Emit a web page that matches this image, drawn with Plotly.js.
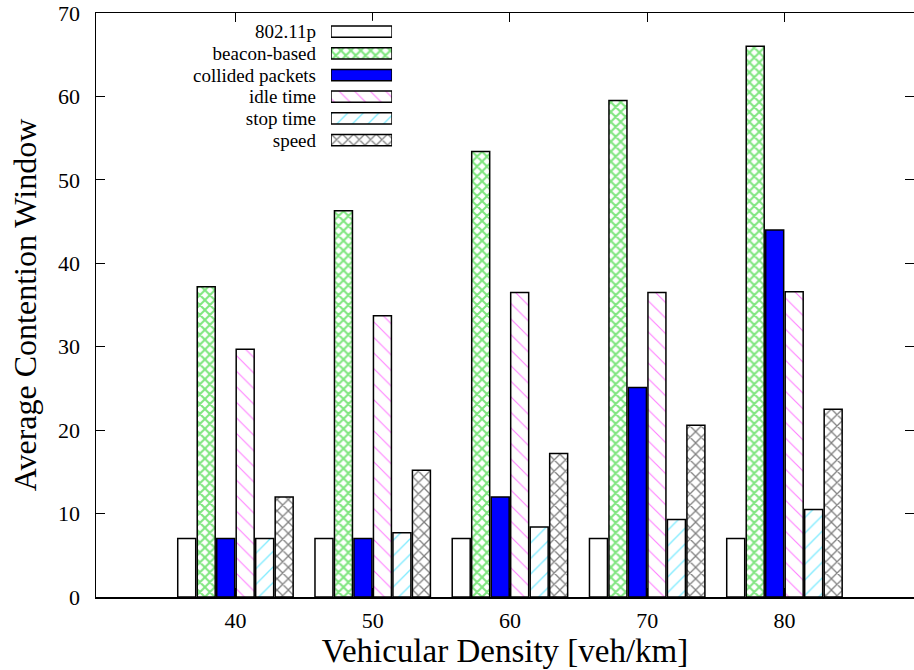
<!DOCTYPE html>
<html>
<head>
<meta charset="utf-8">
<script src="https://cdn.plot.ly/plotly-3.0.1.min.js"></script>
<style>html,body{margin:0;padding:0;background:#fff;}#chart{width:914px;height:670px;}</style>
</head>
<body>
<div id="chart"></div>
<script>
// ---- data ----
const densities = [40, 50, 60, 70, 80];
const seriesNames = ["802.11p", "beacon-based", "collided packets", "idle time", "stop time", "speed"];
const val80211p  = [7.0, 7.0, 7.0, 7.0, 7.0];
const valBeacon  = [37.2, 46.3, 53.4, 59.5, 66.0];
const valCollided = [7.0, 7.0, 12.0, 25.1, 44.0];
const valIdle    = [29.7, 33.7, 36.5, 36.5, 36.6];
const valStop    = [7.0, 7.7, 8.4, 9.3, 10.5];
const valSpeed   = [12.0, 15.2, 17.2, 20.6, 22.5];
const xTicks = [40, 50, 60, 70, 80];
const xTickLabels = ["40", "50", "60", "70", "80"];
const yTicks = [0, 10, 20, 30, 40, 50, 60, 70];

// ---- styles ----
const seriesValues = [val80211p, valBeacon, valCollided, valIdle, valStop, valSpeed];
const styles = [
  {color: "#ffffff", shape: "", fg: "#000000", size: 8, sol: 0.3},
  {color: "#ffffff", shape: "x", fg: "#00cc00", size: 7, sol: 0.5},
  {color: "#0000ff", shape: "", fg: "#0000ff", size: 8, sol: 0.3},
  {color: "#ffffff", shape: "\\", fg: "#ff00ff", size: 11, sol: 0.1},
  {color: "#ffffff", shape: "/", fg: "#00d8ff", size: 11, sol: 0.12},
  {color: "#ffffff", shape: "x", fg: "#000000", size: 8, sol: 0.3}
];
const FONT = "Liberation Serif, Times New Roman, serif";

function markerFor(s) {
  return {
    color: s.color,
    line: {color: "#000000", width: 1.5},
    pattern: {
      shape: s.shape,
      fgcolor: s.fg,
      bgcolor: s.color,
      size: s.size,
      solidity: s.sol,
      fillmode: "overlay"
    }
  };
}

const traces = seriesNames.map((name, i) => ({
  type: "bar",
  name: name,
  x: densities,
  y: seriesValues[i],
  showlegend: false,
  marker: markerFor(styles[i]),
  hoverinfo: "x+y+name"
}));

// legend key drawn as small horizontal bars on their own axes
seriesNames.forEach((name, i) => {
  traces.push({
    type: "bar",
    orientation: "h",
    xaxis: "x2",
    yaxis: "y2",
    name: name,
    y: [name],
    x: [1],
    width: 0.52,
    offsetgroup: "key",
    showlegend: false,
    hoverinfo: "skip",
    marker: markerFor(styles[i])
  });
});

const layout = {
  width: 914,
  height: 670,
  margin: {l: 96, r: 0, t: 13, b: 73},
  paper_bgcolor: "#ffffff",
  plot_bgcolor: "#ffffff",
  barmode: "group",
  bargap: 0.148,
  bargroupgap: 0.077,
  showlegend: false,
  font: {family: FONT, color: "#000000", size: 22},
  xaxis: {
    range: [29.84, 89.44],
    tickvals: xTicks,
    ticktext: xTickLabels,
    ticks: "inside",
    ticklen: 9,
    tickwidth: 1,
    tickcolor: "#000000",
    showline: true,
    linecolor: "#000000",
    linewidth: 1.5,
    mirror: "ticks",
    showgrid: false,
    zeroline: false,
    tickfont: {family: FONT, size: 22, color: "#000000"},
    ticklabelstandoff: 3,
    title: {text: "Vehicular Density [veh/km]", font: {family: FONT, size: 33, color: "#000000"}, standoff: 2}
  },
  yaxis: {
    range: [0, 70],
    tickvals: yTicks,
    ticks: "inside",
    ticklen: 9,
    tickwidth: 1,
    tickcolor: "#000000",
    showline: true,
    linecolor: "#000000",
    linewidth: 1.5,
    mirror: "ticks",
    showgrid: false,
    zeroline: false,
    tickfont: {family: FONT, size: 22, color: "#000000"},
    ticklabelstandoff: 10,
    title: {text: "Average Contention Window", font: {family: FONT, size: 32, color: "#000000"}, standoff: 12}
  },
  xaxis2: {
    domain: [0.2873, 0.3619],
    anchor: "y2",
    range: [0, 1],
    visible: false,
    fixedrange: true
  },
  yaxis2: {
    domain: [0.7639, 0.9866],
    anchor: "x2",
    autorange: "reversed",
    type: "category",
    tickmode: "array",
    tickvals: seriesNames,
    ticktext: seriesNames,
    showline: false,
    showgrid: false,
    zeroline: false,
    ticks: "",
    ticklabelstandoff: 14,
    tickfont: {family: FONT, size: 19, color: "#000000"},
    fixedrange: true
  }
};

Plotly.newPlot("chart", traces, layout, {displayModeBar: false, staticPlot: true});
</script>
</body>
</html>
